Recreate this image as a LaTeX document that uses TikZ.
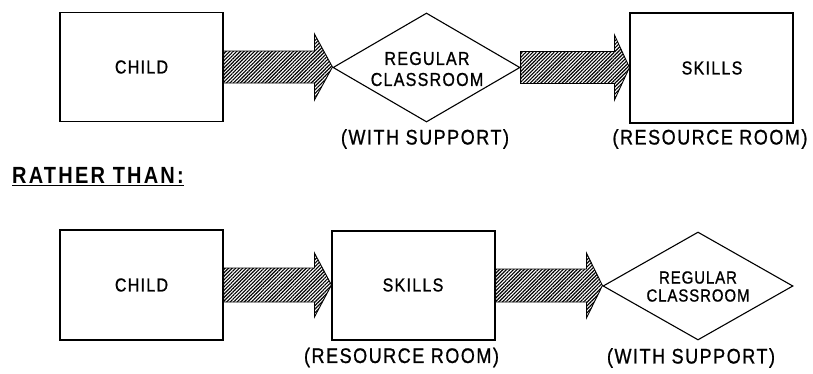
\documentclass[tikz,border=0pt]{standalone}
\usepackage{graphicx}
\usepackage{fontspec}
\setmainfont{Liberation Sans}
\usetikzlibrary{calc,shapes.geometric,patterns.meta}

% typewriter-era lettering: a little taller than the face draws it
\newcommand{\tall}[1]{\scalebox{1}[1.17]{#1}}

\tikzset{
  outline/.style={draw=black, line width=1.1pt},
  boxnode/.style={outline, rectangle, inner sep=0pt,
    minimum width=163pt, minimum height=109pt},
  diamondnode/.style={outline, diamond, inner sep=0pt},
  innertext/.style={inner sep=0pt, align=center,
    font=\addfontfeature{LetterSpace=8,FakeBold=1}\fontsize{16}{21}\selectfont},
  smalltext/.style={inner sep=0pt, align=center,
    font=\addfontfeature{LetterSpace=6,FakeBold=1}\fontsize{15}{18}\selectfont},
  labeltext/.style={inner sep=0pt,
    font=\addfontfeature{LetterSpace=8.5,FakeBold=1}\fontsize{18}{22}\selectfont},
  hatchfill/.style={draw=black, line width=0.9pt, line join=miter,
    pattern={Lines[angle=45,distance=2.5pt,line width=1.15pt]},
    pattern color=black},
}

% broad hatched arrow from the east side of #1 to the west side of #2
% #3 half shaft width, #4 half head width, #5 head length
\newcommand{\fatarrow}[5]{%
  \draw[hatchfill] let \p1=(#1.east), \p2=(#2.west) in
    (\x1,\y1+#3) -- (\x2-#5,\y1+#3) -- (\x2-#5,\y1+#4) -- (\x2,\y1)
    -- (\x2-#5,\y1-#4) -- (\x2-#5,\y1-#3) -- (\x1,\y1-#3) -- cycle;}

\begin{document}
\begin{tikzpicture}[x=1pt, y=-1pt]
  \useasboundingbox (0,0) rectangle (813,373);

  % preferred order
  \node[boxnode] (childA) at (141.5,67) {};
  \node[innertext] (childAt) at (141.5,67) {\tall{CHILD}};
  \node[diamondnode, minimum width=187pt, minimum height=109pt] (classA) at (426.5,67.5) {};
  \node[innertext] (classAt) at (427,69) {\tall{REGULAR}\\\tall{CLASSROOM}};
  \node[boxnode, minimum height=110pt] (skillsA) at (711.5,68) {};
  \node[innertext] (skillsAt) at (712,68) {\tall{SKILLS}};
  \node[labeltext] (supA) at (425,139) {\tall{(WITH SUPPORT)}};
  \node[labeltext] (resA) at (710,139) {\tall{(RESOURCE ROOM)}};

  \fatarrow{childA}{classA}{16pt}{33pt}{18pt}
  \fatarrow{classA}{skillsA}{16pt}{32.5pt}{15pt}

  % heading
  \node[inner sep=0pt, anchor=base west,
    font=\addfontfeature{LetterSpace=11}\fontsize{20}{24}\selectfont\bfseries]
    (rather) at (12,183) {\tall{RATHER THAN:}};
  \draw[line width=1.8pt] ($(rather.base west)+(0,-2.5pt)$) -- ($(rather.base east)+(0,-2.5pt)$);

  % usual order
  \node[boxnode, minimum height=110pt] (childB) at (141.5,285) {};
  \node[innertext] (childBt) at (141.5,285) {\tall{CHILD}};
  \node[boxnode] (skillsB) at (413.5,285.5) {};
  \node[innertext] (skillsBt) at (413,285) {\tall{SKILLS}};
  \node[diamondnode, minimum width=190pt, minimum height=108pt] (classB) at (698,286) {};
  \node[smalltext] (classBt) at (698,286.5) {\tall{REGULAR}\\\tall{CLASSROOM}};
  \node[labeltext] (resB) at (401.5,357.5) {\tall{(RESOURCE ROOM)}};
  \node[labeltext] (supB) at (691,358) {\tall{(WITH SUPPORT)}};

  \fatarrow{childB}{skillsB}{17pt}{32pt}{17pt}
  \fatarrow{skillsB}{classB}{16.5pt}{32.5pt}{16pt}
\end{tikzpicture}
\end{document}
